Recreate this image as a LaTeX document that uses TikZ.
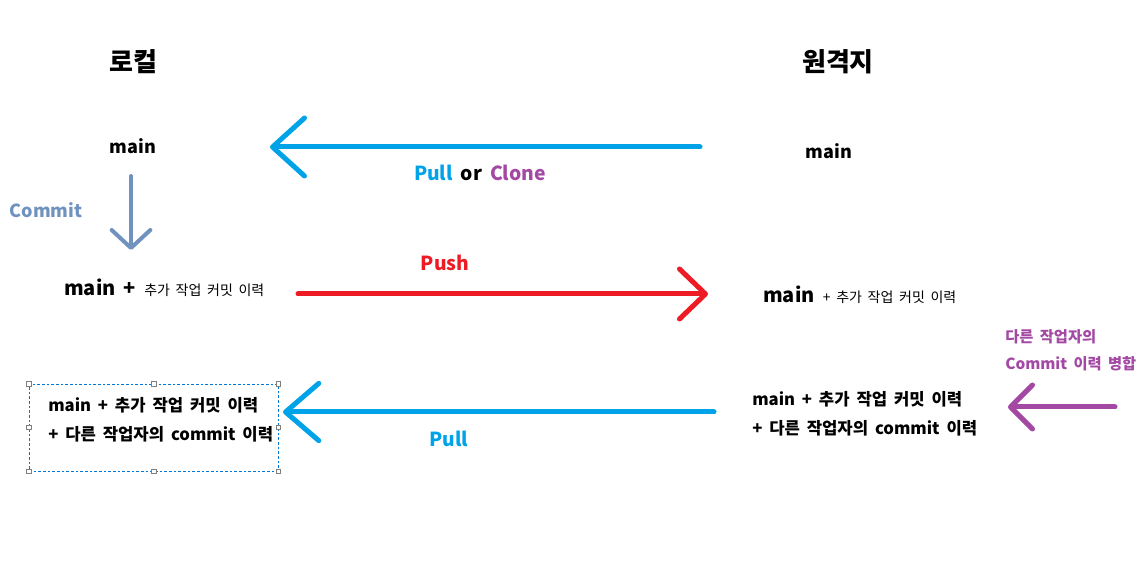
\documentclass[tikz,border=0pt]{standalone}
\usepackage{fontspec}
\setmainfont{Noto Sans CJK KR}[WordSpace=1.8]
\usetikzlibrary{arrows.meta,positioning}
\definecolor{pullblue}{HTML}{00A2E8}
\definecolor{clonepurple}{HTML}{A349A4}
\definecolor{commitblue}{HTML}{7092BE}
\definecolor{pushred}{HTML}{ED1C24}
\definecolor{selblue}{HTML}{0078D7}
\newcommand{\ktxt}[1]{{\fontsize{10.5}{13}\selectfont\mdseries #1}}

\begin{document}
\begin{tikzpicture}[x=0.75pt, y=-0.75pt, inner sep=0pt,
  title/.style={font=\fontsize{19.5}{23}\selectfont\bfseries},
  mainlbl/.style={font=\fontsize{13.5}{16}\selectfont\bfseries},
  rowlbl/.style={anchor=west, font=\fontsize{15}{18}\selectfont\bfseries},
  histlbl/.style={anchor=north west, align=left, font=\fontsize{12.5}{21.75}\selectfont\bfseries},
  arrlbl/.style={font=\fontsize{14.5}{17}\selectfont\bfseries},
  bigarrow/.style={line width=3.75pt, line cap=round},
  selbox/.style={draw=selblue, dashed, dash pattern=on 2pt off 1.5pt, line width=0.6pt, minimum width=186.75pt, minimum height=65.25pt},
  handle/.style={draw=gray, fill=white, line width=0.5pt, minimum size=3.5pt}]
  \useasboundingbox (0,0) rectangle (1147,584);

  % Titles
  \node[title] (local) at (133,62) {로컬};
  \node[title] (remote) at (838,62) {원격지};

  % States
  \node[mainlbl] (lmain) at (133,146) {main};
  \node[mainlbl] (rmain) at (829,151) {main};
  \node[rowlbl] (lcommit) at (64,288) {main + \ktxt{추가 작업 커밋 이력}};
  \node[rowlbl] (rcommit) at (763,295) {main \ktxt{+ 추가 작업 커밋 이력}};
  \node[histlbl] (rmerged) at (752,391) {main + 추가 작업 커밋 이력\\+ 다른 작업자의 commit 이력};
  \node[selbox] (lbox) at (153.5,427.5) {};
  \node[histlbl] (lmerged) at (48,397) {main + 추가 작업 커밋 이력\\+ 다른 작업자의 commit 이력};
  \foreach \a in {north west,north,north east,east,south east,south,south west,west}
    \node[handle] at (lbox.\a) {};

  % Arrow ends
  \coordinate (pcs) at (700,147);   \coordinate (pce) at (270,147);
  \coordinate (cms) at (131,176);   \coordinate (cme) at (131,250);
  \coordinate (phs) at (298,294);   \coordinate (phe) at (708,294);
  \coordinate (mgs) at (1115,407);  \coordinate (mge) at (1008,407);
  \coordinate (pls) at (714,412);   \coordinate (ple) at (283,412);

  % Arrows
  \draw[bigarrow, pullblue, -{Straight Barb[length=24pt, width=43.5pt, round]}] (pcs) -- (pce);
  \draw[bigarrow, commitblue, line width=3pt, -{Straight Barb[length=13.5pt, width=29pt, round]}] (cms) -- (cme);
  \draw[bigarrow, pushred, -{Straight Barb[length=19.5pt, width=37.5pt, round]}] (phs) -- (phe);
  \draw[bigarrow, clonepurple, -{Straight Barb[length=16.5pt, width=33pt, round]}] (mgs) -- (mge);
  \draw[bigarrow, pullblue, -{Straight Barb[length=25pt, width=43pt, round]}] (pls) -- (ple);

  % Arrow labels
  \node[arrlbl] (pclbl) at (480,173) {\textcolor{pullblue}{Pull} or \textcolor{clonepurple}{Clone}};
  \node[arrlbl, commitblue, font=\fontsize{13.5}{16}\selectfont\bfseries] (cmlbl) at (46,210) {Commit};
  \node[arrlbl, pushred] (phlbl) at (445,263) {Push};
  \node[arrlbl, pullblue] (pllbl) at (449,439) {Pull};
  \node[font=\fontsize{11.5}{20.25}\selectfont\bfseries, clonepurple, align=left, anchor=west] (mglbl) at (1005,350) {다른 작업자의\\Commit 이력 병합};
\end{tikzpicture}
\end{document}
